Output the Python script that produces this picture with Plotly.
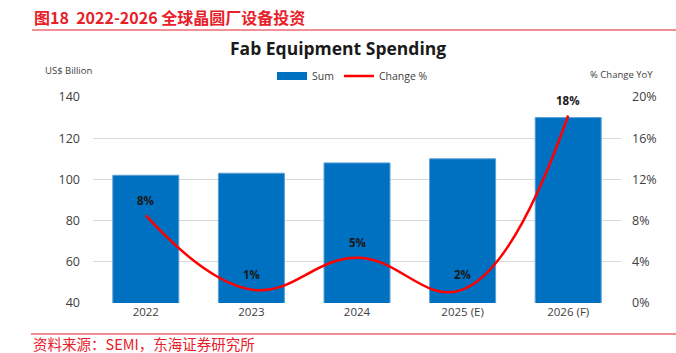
import plotly.graph_objects as go

categories = ["2022", "2023", "2024", "2025 (E)", "2026 (F)"]
spending = [102, 103, 108, 110, 130]
change_pct = [8.5, 1.3, 4.4, 1.3, 18.2]
change_labels = ["8%", "1%", "5%", "2%", "18%"]
left_ticks = [40, 60, 80, 100, 120, 140]
right_ticks = [0, 4, 8, 12, 16, 20]

FONT = "Open Sans"
RED = "#E8202A"
BLUE = "#0070C0"

L, R, T, B = 93, 55, 97, 50
W, H = 676, 353

def px_to_paper_x(px):
    return (px - L) / (W - L - R)

def px_to_paper_y(py):
    return (H - B - py) / (H - T - B)

fig = go.Figure()
fig.add_trace(go.Bar(
    x=categories, y=spending, name="Sum", showlegend=False,
    marker=dict(color=BLUE, line=dict(color="#5AA0D8", width=1)),
    width=0.625,
))
# legend proxy so the "Sum" key is a wide rectangle like the reference
fig.add_trace(go.Scatter(
    x=[None], y=[None], name="Sum", mode="lines",
    line=dict(color=BLUE, width=8),
))
fig.add_trace(go.Scatter(
    x=categories, y=change_pct, name="Change %", yaxis="y2",
    mode="lines",
    line=dict(color="#FF0000", width=2.5, shape="spline", smoothing=1.2),
))

fig.update_layout(
    width=W, height=H,
    margin=dict(l=L, r=R, t=T, b=B),
    paper_bgcolor="white", plot_bgcolor="white",
    showlegend=True,
    legend=dict(orientation="h", x=px_to_paper_x(272), xanchor="left",
                y=px_to_paper_y(76), yanchor="middle",
                font=dict(family=FONT, size=10.5, color="#404040"),
                itemwidth=30, traceorder="normal", tracegroupgap=0),
    font=dict(family=FONT, color="#404040"),
    xaxis=dict(type="category", categoryorder="array", categoryarray=categories,
               range=[-0.5, len(categories) - 0.5],
               showgrid=False, showline=False, ticks="",
               tickfont=dict(family=FONT, size=11.5, color="#404040")),
    yaxis=dict(range=[40, 140], tickvals=left_ticks, showgrid=True,
               gridcolor="#D9D9D9", gridwidth=1, zeroline=False,
               tickfont=dict(family=FONT, size=12.5, color="#404040"), ticklabelstandoff=12),
    yaxis2=dict(range=[0, 20], tickvals=right_ticks, ticktext=[f"{v}%" for v in right_ticks],
                overlaying="y", side="right", showgrid=False, zeroline=False,
                tickfont=dict(family=FONT, size=12.5, color="#404040"), ticklabelstandoff=10),
)

anns = []
for i, (v, t) in enumerate(zip(change_pct, change_labels)):
    anns.append(dict(x=i, y=v, xref="x", yref="y2", text=f"<b>{t}</b>", showarrow=False,
                     yshift=15, font=dict(family=FONT, size=11.5, color="#1a1a1a")))

texts = [
    dict(text="<b>图18  2022-2026 全球晶圆厂设备投资</b>", x=32, y=17, anchor="left",
         font=dict(family="Noto Sans CJK SC", size=16, color=RED)),
    dict(text="<b>Fab Equipment Spending</b>", x=338, y=48, anchor="center",
         font=dict(family=FONT, size=17.5, color="#1a1a1a")),
    dict(text="US$ Billion", x=43, y=70, anchor="left", font=dict(family=FONT, size=9.5, color="#404040")),
    dict(text="% Change YoY", x=588, y=74, anchor="left", font=dict(family=FONT, size=9.5, color="#404040")),
    dict(text="资料来源：SEMI，东海证券研究所", x=31, y=343, anchor="left",
         font=dict(family="Noto Sans CJK SC", size=14.5, color=RED)),
]
for a in texts:
    anns.append(dict(text=a["text"], xref="paper", yref="paper",
                     x=px_to_paper_x(a["x"]), y=px_to_paper_y(a["y"]),
                     showarrow=False, yanchor="middle", xanchor=a["anchor"], font=a["font"]))
fig.update_layout(annotations=anns)

fig.add_shape(type="line", xref="paper", yref="paper",
              x0=px_to_paper_x(32), x1=px_to_paper_x(676), y0=px_to_paper_y(30), y1=px_to_paper_y(30),
              line=dict(color=RED, width=1))
fig.add_shape(type="line", xref="paper", yref="paper",
              x0=px_to_paper_x(31), x1=px_to_paper_x(676), y0=px_to_paper_y(334), y1=px_to_paper_y(334),
              line=dict(color=RED, width=1))

fig.write_html("out.html")
